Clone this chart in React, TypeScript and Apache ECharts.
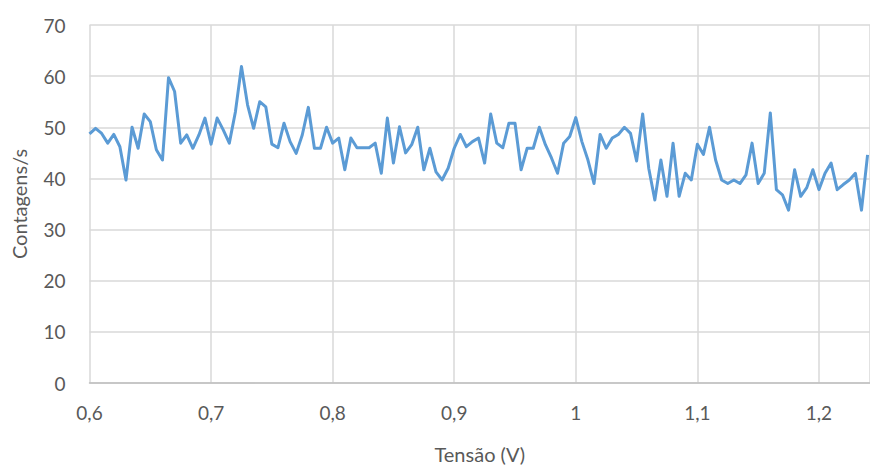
import React, { useEffect, useRef } from "react";
import * as echarts from "echarts";

const startVoltage = 0.6;
const stepVoltage = 0.005;

const counts: number[] = [
  48.7, 49.8, 48.8, 46.9, 48.6, 46.2, 39.7, 50, 45.9, 52.6,
  51.1, 45.6, 43.6, 59.7, 57, 46.9, 48.5, 45.9, 48.5, 51.8,
  46.7, 51.8, 49.5, 46.9, 53, 61.9, 54.4, 49.8, 55, 54,
  46.7, 46, 50.8, 47.2, 44.9, 48.5, 53.9, 45.9, 45.9, 50,
  46.9, 47.9, 41.7, 47.9, 46, 46, 46, 46.9, 41, 51.8,
  43, 50.1, 45, 46.6, 50, 41.7, 45.9, 41.3, 39.7, 42,
  45.9, 48.6, 46.2, 47.2, 47.9, 43, 52.6, 46.9, 46, 50.8,
  50.8, 41.7, 45.9, 45.9, 50, 46.6, 44, 41, 46.9, 48.2,
  51.9, 47.2, 43.6, 39, 48.6, 45.9, 47.9, 48.6, 50, 48.8,
  43.4, 52.6, 42, 35.8, 43.6, 36.5, 46.9, 36.5, 41, 39.7,
  46.7, 44.7, 50, 43.6, 39.7, 39, 39.7, 39, 40.7, 46.9,
  39, 41, 52.8, 37.8, 36.8, 33.8, 41.7, 36.5, 38.2, 41.7,
  37.8, 41, 43, 37.8, 38.8, 39.7, 41, 33.8, 44.6,
];

const voltages: number[] = counts.map((_, i) => +(startVoltage + i * stepVoltage).toFixed(3));

const xAxisTitle = "Tensão (V)";
const yAxisTitle = "Contagens/s";

const fmt = (v: number) => String(Math.round(v * 10) / 10).replace(".", ",");

export default function App() {
  const ref = useRef<HTMLDivElement>(null);
  useEffect(() => {
    if (!ref.current) return;
    const chart = echarts.init(ref.current, undefined, { renderer: "svg" });
    const font = "Lato, 'Open Sans', sans-serif";
    const textColor = "#595959";
    chart.setOption({
      animation: false,
      backgroundColor: "#ffffff",
      grid: {
        left: 89.5,
        top: 25,
        right: 0,
        bottom: 85,
        containLabel: false,
        outerBoundsMode: "none",
      },
      xAxis: {
        type: "value",
        min: 0.6,
        max: 1.242,
        interval: 0.1,
        name: xAxisTitle,
        nameLocation: "middle",
        nameGap: 61,
        nameTextStyle: { fontFamily: font, fontSize: 20, color: textColor },
        axisLine: { show: true, lineStyle: { color: "#bfbfbf", width: 1.5 } },
        axisTick: { show: false },
        axisLabel: {
          fontFamily: font,
          fontSize: 19,
          color: textColor,
          margin: 20,
          showMaxLabel: false,
          formatter: (v: number) => fmt(v),
        },
        splitLine: { show: true, lineStyle: { color: "#d9d9d9", width: 1.5 } },
      },
      yAxis: {
        type: "value",
        min: 0,
        max: 70,
        interval: 10,
        name: yAxisTitle,
        nameLocation: "middle",
        nameGap: 61,
        nameTextStyle: { fontFamily: font, fontSize: 20, color: textColor },
        axisLine: { show: false },
        axisTick: { show: false },
        axisLabel: { fontFamily: font, fontSize: 19, color: textColor, margin: 24 },
        splitLine: { show: true, lineStyle: { color: "#d9d9d9", width: 1.5 } },
      },
      series: [
        {
          type: "line",
          data: voltages.map((v, i) => [v, counts[i]]),
          showSymbol: false,
          symbol: "none",
          lineStyle: { color: "#5B9BD5", width: 3, join: "round" },
          clip: true,
        },
      ],
    });
    return () => chart.dispose();
  }, []);
  return (
    <div
      ref={ref}
      style={{ position: "fixed", left: 0, top: 0, width: 870, height: 468 }}
    />
  );
}
